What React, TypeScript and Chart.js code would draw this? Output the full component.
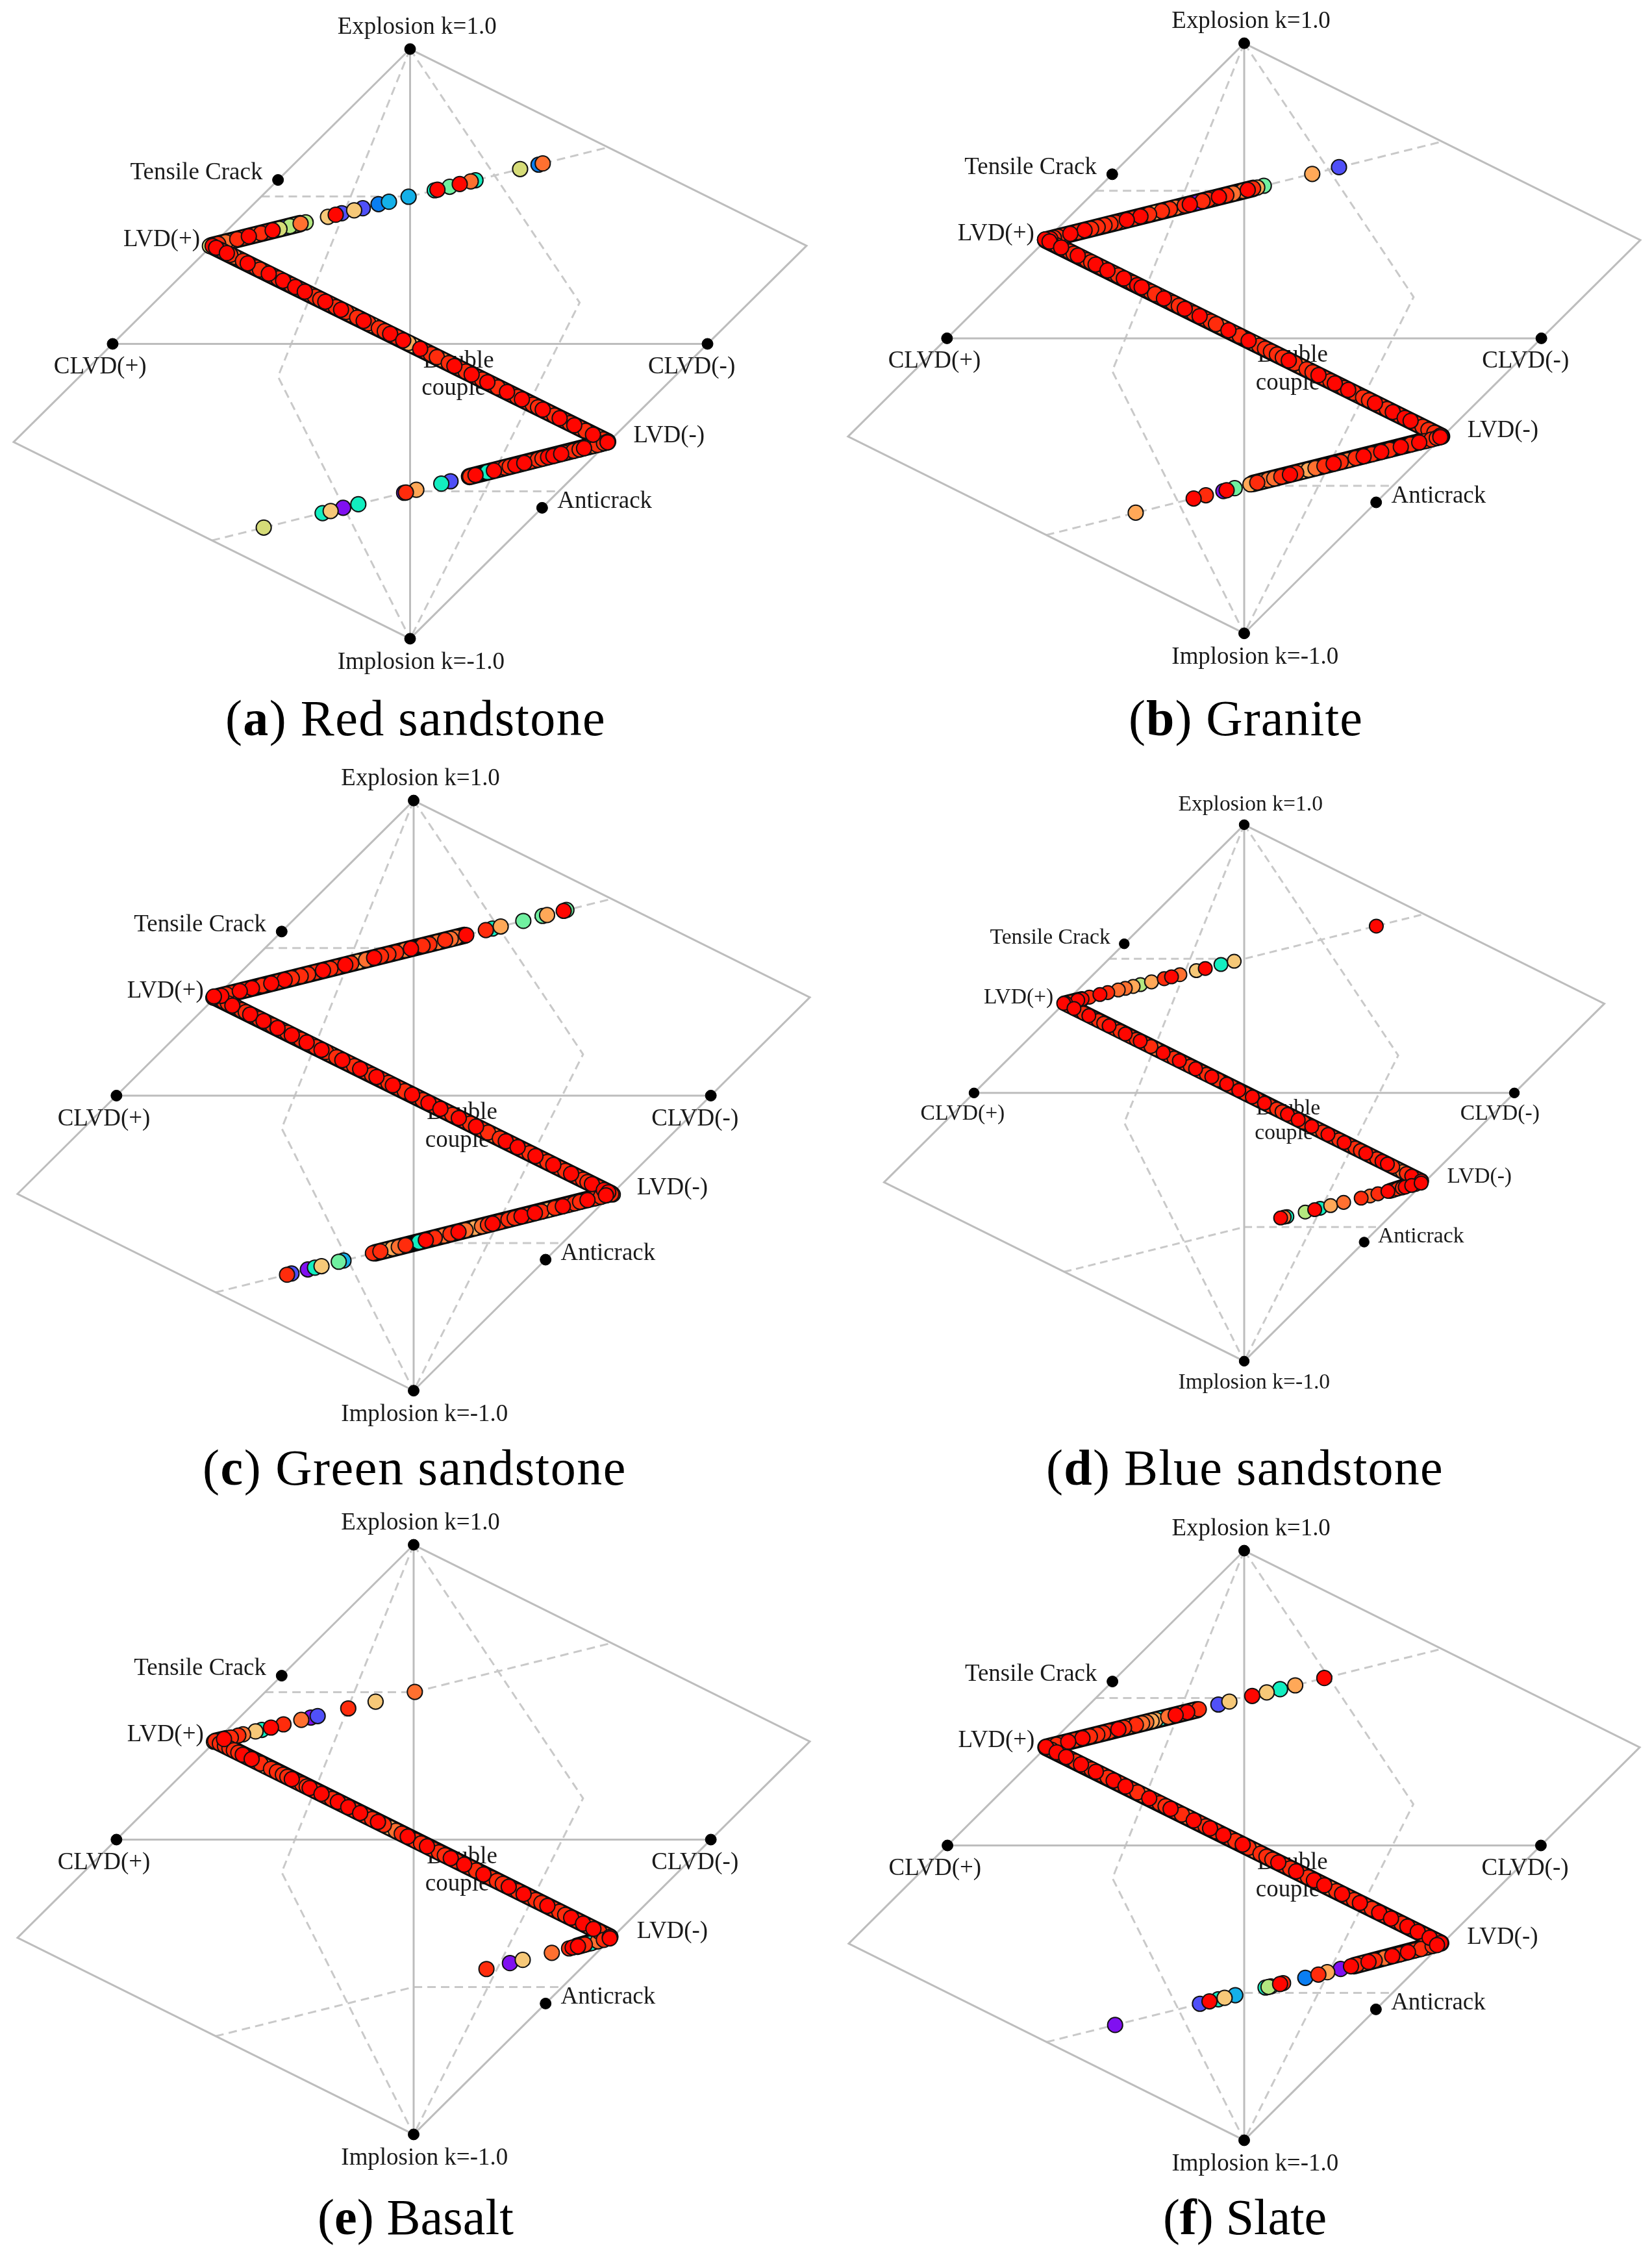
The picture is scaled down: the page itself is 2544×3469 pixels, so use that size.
import React, { useEffect, useRef } from "react";
import Chart from "chart.js/auto";

type Ev = [number, number, number]; // [T, k, shade index]

// colour scale of the events, low values are painted first
const shades = ["#8010f0","#5050f8","#0a7ef2","#14b0e8","#12eec0","#70f0a0","#b4e880","#d6dc78","#f6c878","#ffa858","#ff7030","#ff2c0c","#ff0600"];

// Hudson diagram frame
const outerT = [0,-1.333,0,1.333,0];
const outerK = [1,-0.333,-1,0.333,1];
const clvdT = [-1,1];
const clvdK = [0,0];
const isoT = [0,0];
const isoK = [1,-1];
const dashUpperT = [-0.5,0,0.667];
const dashUpperK = [0.5,0.5,0.667];
const dashLowerT = [-0.667,0,0.5];
const dashLowerK = [-0.667,-0.5,-0.5];
const dashLeftT = [0,-0.444,0];
const dashLeftK = [1,-0.111,-1];
const dashRightT = [0,0.57,0];
const dashRightK = [1,0.14,-1];
const landmarkT = [0,0,-1,1,-0.444,0.444];
const landmarkK = [1,-1,0,0,0.556,-0.556];

// text anchors in T,k coordinates
const labelText = ["Explosion k=1.0","Implosion k=-1.0","Tensile Crack","LVD(+)","CLVD(+)","CLVD(-)","Double","couple","LVD(-)","Anticrack"];
const labelT = [-0.244,-0.244,-0.941,-0.964,-1.198,0.80,0.044,0.039,0.751,0.495];
const labelK = [1.073,-1.081,0.579,0.354,-0.079,-0.079,-0.059,-0.152,-0.313,-0.535];

// where the events overlap into a solid band
const redSandstoneBandT = [-.37,-.668,.664,.2];
const redSandstoneBandK = [.408,.333,-.332,-.45];
const graniteBandT = [.03,-.668,.664,.03];
const graniteBandK = [.508,.333,-.332,-.492];
const greenSandstoneBandT = [.17,-.668,.664,-.13];
const greenSandstoneBandK = [.543,.333,-.332,-.533];
const blueSandstoneBandT = [-.6,-.665,.655,.54];
const blueSandstoneBandK = [.35,.334,-.328,-.365];
const basaltBandT = [-.63,-.665,.66,.55];
const basaltBandK = [.342,.334,-.33,-.362];
const slateBandT = [-.16,-.668,.662,.37];
const slateBandK = [.46,.333,-.331,-.408];

const redSandstoneUpper: Ev[] = [[.446,.612,10],[.432,.608,2],[.37,.593,7],[.22,.555,4],[.204,.551,10],[.167,.542,12],[.133,.533,5],[.092,.523,12],[.083,.521,4],[-.005,.499,3],[-.071,.482,3],[-.106,.474,2],[-.159,.46,1],[-.188,.453,8],[-.23,.443,1],[-.25,.438,12],[-.276,.431,8],[-.351,.412,6],[-.368,.408,10],[-.385,.404,6],[-.404,.399,6],[-.42,.395,1],[-.439,.39,7],[-.462,.385,12],[-.48,.38,11],[-.501,.375,11],[-.52,.37,10],[-.542,.365,12],[-.56,.36,11],[-.581,.355,11],[-.595,.351,10],[-.608,.348,10],[-.62,.345,10],[-.634,.342,9],[-.645,.339,11],[-.652,.337,10],[-.673,.332,7]];
const redSandstoneMiddle: Ev[] = [[-.664,.332,12],[-.652,.326,12],[-.64,.32,11],[-.628,.314,11],[-.616,.308,12],[-.604,.302,11],[-.59,.295,10],[-.575,.288,9],[-.562,.281,11],[-.546,.273,12],[-.532,.266,11],[-.518,.259,11],[-.505,.252,11],[-.49,.245,10],[-.475,.238,12],[-.46,.23,11],[-.443,.222,11],[-.427,.214,12],[-.413,.207,11],[-.4,.2,11],[-.386,.193,12],[-.37,.185,11],[-.354,.177,12],[-.338,.169,11],[-.32,.16,11],[-.302,.151,11],[-.285,.143,12],[-.27,.135,11],[-.25,.125,11],[-.232,.116,12],[-.215,.108,11],[-.2,.1,10],[-.178,.089,11],[-.156,.078,12],[-.14,.07,11],[-.125,.063,9],[-.105,.053,11],[-.085,.043,11],[-.067,.034,12],[-.045,.023,11],[-.023,.012,12],[-.005,.003,9],[.012,-.006,8],[.034,-.017,12],[.052,-.026,11],[.07,-.035,11],[.09,-.045,11],[.11,-.055,10],[.13,-.065,11],[.149,-.075,12],[.168,-.084,11],[.187,-.094,11],[.207,-.104,12],[.225,-.113,11],[.242,-.121,11],[.26,-.13,12],[.278,-.139,11],[.295,-.148,11],[.31,-.155,10],[.326,-.163,12],[.343,-.172,11],[.36,-.18,11],[.376,-.188,12],[.395,-.198,11],[.412,-.206,11],[.43,-.215,11],[.446,-.223,12],[.464,-.232,11],[.485,-.243,11],[.503,-.252,12],[.52,-.26,11],[.537,-.269,11],[.552,-.276,12],[.57,-.285,11],[.59,-.295,11],[.615,-.308,12],[.632,-.316,9],[.648,-.324,11],[.664,-.332,12]];
const redSandstoneLower: Ev[] = [[-.492,-.623,7],[-.294,-.574,4],[-.267,-.567,8],[-.225,-.556,0],[-.174,-.544,4],[-.014,-.504,11],[-.02,-.505,0],[.021,-.495,9],[.105,-.474,4],[.136,-.466,1],[.202,-.45,11],[.22,-.445,12],[.26,-.435,4],[.282,-.43,12],[.3,-.425,11],[.319,-.42,11],[.335,-.416,11],[.354,-.412,12],[.37,-.408,11],[.384,-.404,12],[.405,-.399,11],[.429,-.393,11],[.445,-.389,11],[.464,-.384,12],[.482,-.38,12],[.495,-.376,11],[.508,-.373,12],[.52,-.37,11],[.535,-.366,8],[.55,-.363,11],[.57,-.358,11],[.585,-.354,12],[.6,-.35,10],[.615,-.346,10],[.63,-.343,11],[.641,-.34,10],[.652,-.337,11],[.664,-.334,12]];

const graniteUpper: Ev[] = [[.319,.58,1],[.229,.557,9],[.066,.517,5],[.044,.511,9],[.03,.508,11],[.012,.503,12],[-.005,.499,10],[-.037,.491,10],[-.06,.485,11],[-.085,.479,12],[-.105,.474,11],[-.121,.47,11],[-.14,.465,11],[-.16,.46,0],[-.183,.454,12],[-.2,.45,11],[-.215,.446,1],[-.23,.443,10],[-.25,.438,11],[-.277,.431,11],[-.298,.426,9],[-.32,.42,11],[-.349,.413,12],[-.372,.407,11],[-.395,.401,12],[-.415,.396,11],[-.431,.392,11],[-.45,.388,11],[-.47,.383,11],[-.493,.377,11],[-.515,.371,11],[-.537,.366,12],[-.56,.36,11],[-.585,.354,12],[-.605,.349,11],[-.626,.344,11],[-.64,.34,11],[-.652,.337,12],[-.67,.333,12]];
const graniteMiddle: Ev[] = [[-.67,.335,12],[-.655,.328,12],[-.642,.321,11],[-.63,.315,11],[-.616,.308,12],[-.602,.301,11],[-.588,.294,11],[-.574,.287,11],[-.56,.28,12],[-.545,.273,11],[-.53,.265,11],[-.515,.258,11],[-.5,.25,12],[-.48,.24,11],[-.46,.23,12],[-.44,.22,11],[-.425,.213,11],[-.405,.203,12],[-.39,.195,11],[-.375,.188,11],[-.36,.18,12],[-.345,.173,12],[-.33,.165,11],[-.315,.158,11],[-.3,.15,11],[-.285,.143,10],[-.27,.135,12],[-.255,.128,11],[-.24,.12,11],[-.22,.11,11],[-.2,.1,12],[-.185,.093,11],[-.17,.085,11],[-.15,.075,12],[-.13,.065,11],[-.113,.057,11],[-.095,.048,11],[-.075,.038,10],[-.053,.027,12],[-.035,.018,11],[-.015,.008,11],[.015,-.008,12],[.032,-.016,9],[.05,-.025,11],[.07,-.035,11],[.09,-.045,11],[.11,-.055,11],[.13,-.065,11],[.15,-.075,12],[.17,-.085,11],[.19,-.095,10],[.21,-.105,11],[.23,-.115,11],[.25,-.125,12],[.27,-.135,11],[.29,-.145,11],[.305,-.153,12],[.32,-.16,11],[.335,-.168,11],[.35,-.175,12],[.37,-.185,11],[.385,-.193,9],[.4,-.2,11],[.42,-.21,11],[.44,-.22,12],[.46,-.23,11],[.48,-.24,11],[.5,-.25,12],[.52,-.26,11],[.54,-.27,12],[.56,-.28,12],[.58,-.29,11],[.6,-.3,11],[.62,-.31,11],[.64,-.32,11],[.66,-.33,12]];
const graniteLower: Ev[] = [[-.365,-.591,9],[-.17,-.543,12],[-.129,-.532,11],[-.059,-.515,12],[-.07,-.518,0],[-.032,-.508,5],[.021,-.495,9],[.044,-.489,11],[.06,-.485,8],[.08,-.48,10],[.101,-.475,10],[.125,-.469,11],[.154,-.462,12],[.175,-.456,11],[.195,-.451,9],[.216,-.446,9],[.24,-.44,10],[.27,-.433,11],[.301,-.425,12],[.325,-.419,11],[.349,-.413,10],[.375,-.406,11],[.402,-.4,12],[.43,-.393,11],[.461,-.385,12],[.49,-.378,11],[.527,-.368,12],[.56,-.36,11],[.589,-.353,12],[.61,-.348,11],[.63,-.343,11],[.648,-.338,11],[.66,-.335,12]];

const greenSandstoneUpper: Ev[] = [[.514,.629,5],[.505,.626,12],[.449,.612,9],[.434,.609,5],[.369,.592,5],[.293,.573,9],[.265,.566,4],[.243,.561,11],[.177,.544,12],[.142,.536,10],[.125,.531,10],[.106,.527,11],[.08,.52,10],[.053,.513,11],[.03,.508,11],[-.009,.498,12],[-.03,.493,10],[-.059,.485,11],[-.085,.479,11],[-.11,.473,11],[-.133,.467,12],[-.16,.46,10],[-.186,.454,9],[-.21,.448,11],[-.23,.443,12],[-.257,.436,11],[-.28,.43,11],[-.305,.424,12],[-.33,.418,11],[-.355,.411,11],[-.38,.405,11],[-.41,.398,11],[-.434,.392,12],[-.455,.386,11],[-.479,.38,12],[-.51,.373,11],[-.544,.364,12],[-.565,.359,11],[-.585,.354,12],[-.61,.348,11],[-.63,.343,11],[-.647,.338,12],[-.674,.332,12]];
const greenSandstoneMiddle: Ev[] = [[-.672,.336,12],[-.655,.328,11],[-.64,.32,11],[-.625,.313,11],[-.61,.305,12],[-.595,.298,11],[-.58,.29,11],[-.565,.283,11],[-.55,.275,12],[-.532,.266,11],[-.52,.26,11],[-.505,.253,12],[-.49,.245,11],[-.475,.238,11],[-.458,.229,12],[-.44,.22,11],[-.425,.213,11],[-.41,.205,12],[-.395,.198,11],[-.38,.19,11],[-.36,.18,12],[-.345,.173,11],[-.33,.165,11],[-.31,.155,12],[-.295,.148,11],[-.28,.14,10],[-.26,.13,11],[-.24,.12,12],[-.22,.11,11],[-.2,.1,11],[-.18,.09,12],[-.16,.08,11],[-.14,.07,11],[-.125,.063,12],[-.105,.053,11],[-.085,.043,11],[-.07,.035,12],[-.05,.025,11],[-.03,.015,11],[-.005,.003,12],[.01,-.005,11],[.03,-.015,11],[.05,-.025,12],[.07,-.035,11],[.09,-.045,12],[.11,-.055,11],[.13,-.065,11],[.152,-.076,12],[.17,-.085,11],[.19,-.095,11],[.21,-.105,12],[.23,-.115,11],[.25,-.125,11],[.27,-.135,10],[.29,-.145,11],[.31,-.155,12],[.33,-.165,11],[.35,-.175,12],[.37,-.185,11],[.39,-.195,11],[.41,-.205,12],[.43,-.215,11],[.45,-.225,11],[.47,-.235,12],[.49,-.245,11],[.51,-.255,11],[.53,-.265,12],[.55,-.275,11],[.57,-.285,11],[.585,-.293,11],[.6,-.3,12],[.62,-.31,11],[.64,-.32,12],[.655,-.328,12],[.67,-.335,11]];
const greenSandstoneLower: Ev[] = [[-.426,-.607,11],[-.411,-.603,1],[-.356,-.589,0],[-.332,-.583,4],[-.31,-.578,8],[-.252,-.563,5],[-.236,-.559,3],[-.137,-.534,11],[-.112,-.528,11],[-.095,-.524,9],[-.071,-.518,9],[-.05,-.513,10],[-.027,-.507,11],[.018,-.496,4],[.041,-.49,12],[.071,-.482,11],[.1,-.475,10],[.124,-.469,11],[.151,-.462,12],[.175,-.456,10],[.204,-.449,9],[.23,-.443,10],[.25,-.438,11],[.266,-.434,12],[.29,-.428,11],[.319,-.42,11],[.34,-.415,11],[.363,-.409,12],[.385,-.404,11],[.408,-.398,12],[.43,-.393,11],[.452,-.387,9],[.475,-.381,11],[.502,-.375,12],[.52,-.37,11],[.541,-.365,11],[.56,-.36,11],[.585,-.354,12],[.61,-.348,11],[.63,-.343,11],[.647,-.338,12],[.665,-.334,11]];

const blueSandstoneUpper: Ev[] = [[.489,.622,12],[-.037,.491,8],[-.086,.479,4],[-.144,.464,12],[-.177,.456,8],[-.238,.441,10],[-.269,.433,12],[-.296,.426,11],[-.343,.414,9],[-.384,.404,6],[-.411,.397,9],[-.44,.39,10],[-.466,.384,10],[-.505,.374,11],[-.534,.367,12],[-.573,.357,11],[-.6,.35,12],[-.616,.346,12],[-.64,.34,11],[-.661,.335,12]];
const blueSandstoneMiddle: Ev[] = [[-.668,.334,12],[-.65,.325,11],[-.63,.315,12],[-.615,.308,11],[-.595,.298,11],[-.575,.288,12],[-.56,.28,11],[-.54,.27,11],[-.52,.26,11],[-.5,.25,12],[-.48,.24,11],[-.46,.23,11],[-.44,.22,12],[-.42,.21,11],[-.4,.2,11],[-.385,.193,12],[-.365,.183,11],[-.345,.173,11],[-.325,.163,10],[-.3,.15,12],[-.28,.14,11],[-.26,.13,11],[-.24,.12,12],[-.22,.11,11],[-.2,.1,11],[-.18,.09,12],[-.16,.08,11],[-.14,.07,11],[-.12,.06,12],[-.095,.048,11],[-.065,.033,12],[-.045,.023,11],[-.02,.01,12],[.005,-.003,11],[.03,-.015,12],[.05,-.025,11],[.075,-.038,12],[.095,-.048,11],[.12,-.06,11],[.14,-.07,11],[.16,-.08,12],[.18,-.09,11],[.2,-.1,12],[.22,-.11,11],[.25,-.125,12],[.27,-.135,10],[.29,-.145,11],[.31,-.155,12],[.33,-.165,11],[.35,-.175,11],[.37,-.185,12],[.39,-.195,11],[.41,-.205,11],[.43,-.215,11],[.45,-.225,12],[.47,-.235,11],[.49,-.245,11],[.51,-.255,12],[.53,-.265,12],[.55,-.275,11],[.57,-.285,9],[.585,-.293,10],[.6,-.3,11],[.62,-.31,12],[.64,-.32,11],[.655,-.328,12]];
const blueSandstoneLower: Ev[] = [[.135,-.466,12],[.158,-.461,4],[.148,-.463,10],[.226,-.444,6],[.261,-.435,12],[.281,-.43,4],[.32,-.42,9],[.368,-.408,10],[.433,-.392,11],[.466,-.384,10],[.495,-.376,11],[.532,-.367,12],[.55,-.363,11],[.567,-.358,11],[.585,-.354,11],[.596,-.351,12],[.62,-.345,12],[.635,-.341,11],[.655,-.336,12]];

const basaltUpper: Ev[] = [[.004,.501,10],[-.128,.468,8],[-.22,.445,11],[-.323,.419,1],[-.346,.414,0],[-.378,.406,10],[-.438,.391,11],[-.48,.38,12],[-.511,.372,4],[-.532,.367,8],[-.574,.357,10],[-.59,.353,11],[-.615,.346,11],[-.638,.341,12],[-.65,.338,10],[-.665,.334,10],[-.672,.332,9]];
const basaltMiddle: Ev[] = [[-.668,.334,11],[-.652,.326,11],[-.635,.318,11],[-.62,.31,11],[-.605,.303,11],[-.59,.295,11],[-.575,.288,12],[-.56,.28,11],[-.545,.273,12],[-.53,.265,11],[-.515,.258,11],[-.5,.25,9],[-.48,.24,11],[-.46,.23,11],[-.44,.22,11],[-.425,.213,11],[-.41,.205,12],[-.39,.195,11],[-.375,.188,11],[-.36,.18,11],[-.35,.175,12],[-.33,.165,11],[-.31,.155,12],[-.295,.148,11],[-.275,.138,11],[-.255,.128,12],[-.235,.118,11],[-.22,.11,12],[-.2,.1,11],[-.18,.09,12],[-.16,.08,11],[-.14,.07,11],[-.12,.06,12],[-.1,.05,11],[-.08,.04,9],[-.06,.03,10],[-.04,.02,11],[-.02,.01,12],[.005,-.003,11],[.025,-.013,11],[.045,-.023,12],[.065,-.033,11],[.085,-.043,11],[.105,-.053,11],[.125,-.063,12],[.145,-.073,11],[.17,-.085,12],[.19,-.095,11],[.21,-.105,11],[.235,-.118,12],[.26,-.13,11],[.28,-.14,11],[.3,-.15,11],[.32,-.16,12],[.335,-.168,11],[.35,-.175,11],[.37,-.185,12],[.39,-.195,11],[.41,-.205,11],[.43,-.215,11],[.45,-.225,12],[.47,-.235,11],[.49,-.245,11],[.51,-.255,11],[.53,-.265,12],[.55,-.275,11],[.57,-.285,12],[.59,-.295,10],[.605,-.303,12],[.625,-.313,11],[.645,-.323,10],[.66,-.33,12]];
const basaltLower: Ev[] = [[.245,-.439,11],[.324,-.419,0],[.367,-.408,8],[.465,-.384,10],[.523,-.369,11],[.535,-.366,12],[.553,-.362,12],[.576,-.356,11],[.598,-.351,4],[.62,-.345,10],[.64,-.34,11],[.66,-.335,12]];

const slateUpper: Ev[] = [[.27,.568,12],[.172,.543,9],[.121,.53,4],[.076,.519,8],[.027,.507,12],[-.05,.488,8],[-.087,.478,1],[-.153,.462,11],[-.172,.457,10],[-.192,.452,12],[-.21,.448,11],[-.231,.442,12],[-.256,.436,10],[-.282,.43,4],[-.298,.426,9],[-.312,.422,9],[-.33,.418,10],[-.344,.414,10],[-.365,.409,11],[-.389,.403,10],[-.405,.399,11],[-.424,.394,12],[-.454,.387,11],[-.475,.381,11],[-.495,.376,11],[-.52,.37,11],[-.545,.364,12],[-.57,.358,11],[-.593,.352,12],[-.615,.346,11],[-.632,.342,11],[-.65,.338,10],[-.667,.333,12]];
const slateMiddle: Ev[] = [[-.668,.334,12],[-.65,.325,11],[-.632,.316,12],[-.615,.308,11],[-.6,.3,12],[-.585,.293,11],[-.57,.285,11],[-.55,.275,12],[-.535,.268,11],[-.515,.258,11],[-.5,.25,12],[-.48,.24,11],[-.46,.23,11],[-.44,.22,12],[-.42,.21,11],[-.4,.2,12],[-.38,.19,11],[-.36,.18,11],[-.34,.17,10],[-.32,.16,12],[-.305,.153,11],[-.285,.143,11],[-.265,.133,11],[-.248,.124,12],[-.23,.115,11],[-.21,.105,11],[-.19,.095,10],[-.17,.085,12],[-.15,.075,11],[-.13,.065,11],[-.115,.058,12],[-.095,.048,11],[-.07,.035,12],[-.05,.025,11],[-.03,.015,11],[-.005,.003,12],[.015,-.008,11],[.035,-.018,10],[.055,-.028,11],[.075,-.038,11],[.095,-.048,11],[.115,-.058,12],[.135,-.068,11],[.155,-.078,11],[.175,-.088,12],[.195,-.098,11],[.215,-.108,11],[.235,-.118,12],[.255,-.128,11],[.27,-.135,12],[.29,-.145,10],[.31,-.155,11],[.33,-.165,12],[.35,-.175,11],[.37,-.185,11],[.39,-.195,12],[.41,-.205,11],[.43,-.215,11],[.455,-.228,12],[.475,-.238,11],[.495,-.248,12],[.51,-.255,11],[.53,-.265,11],[.55,-.275,12],[.57,-.285,11],[.585,-.293,12],[.605,-.303,11],[.625,-.313,12],[.645,-.323,11],[.662,-.331,12]];
const slateLower: Ev[] = [[-.435,-.609,0],[-.149,-.537,1],[-.117,-.529,12],[-.087,-.522,4],[-.066,-.517,8],[-.03,-.508,3],[.072,-.482,4],[.082,-.48,6],[.09,-.478,5],[.121,-.47,12],[.131,-.467,11],[.206,-.449,2],[.25,-.438,11],[.28,-.43,9],[.325,-.419,0],[.36,-.41,12],[.38,-.405,11],[.4,-.4,10],[.419,-.395,12],[.44,-.39,11],[.472,-.382,10],[.499,-.375,12],[.525,-.369,11],[.552,-.362,12],[.575,-.356,11],[.596,-.351,11],[.615,-.346,10],[.635,-.341,11],[.65,-.338,12]];

const redSandstoneEvents = [...redSandstoneUpper, ...redSandstoneMiddle, ...redSandstoneLower];
const graniteEvents = [...graniteUpper, ...graniteMiddle, ...graniteLower];
const greenSandstoneEvents = [...greenSandstoneUpper, ...greenSandstoneMiddle, ...greenSandstoneLower];
const blueSandstoneEvents = [...blueSandstoneUpper, ...blueSandstoneMiddle, ...blueSandstoneLower];
const basaltEvents = [...basaltUpper, ...basaltMiddle, ...basaltLower];
const slateEvents = [...slateUpper, ...slateMiddle, ...slateLower];

const PANELS = [
  { letter: "a", name: " Red sandstone", events: redSandstoneEvents, bandT: redSandstoneBandT, bandK: redSandstoneBandK, cx: 631.1, cy: 529.7, hx: 458, hy: 454, capL: 347, capR: 933, capY: 1132, floor: -1.4 },
  { letter: "b", name: " Granite", events: graniteEvents, bandT: graniteBandT, bandK: graniteBandK, cx: 1915.3, cy: 520.8, hx: 457.5, hy: 454.2, capL: 1738, capR: 2099, capY: 1132, floor: -1.42 },
  { letter: "c", name: " Green sandstone", events: greenSandstoneEvents, bandT: greenSandstoneBandT, bandK: greenSandstoneBandK, cx: 636.8, cy: 1686.7, hx: 457.5, hy: 454.3, capL: 312, capR: 965, capY: 2286, floor: -1.4 },
  { letter: "d", name: " Blue sandstone", events: blueSandstoneEvents, bandT: blueSandstoneBandT, bandK: blueSandstoneBandK, cx: 1916.1, cy: 1683, hx: 416.2, hy: 412.9, capL: 1611, capR: 2223, capY: 2286, floor: -1.55 },
  { letter: "e", name: " Basalt", events: basaltEvents, bandT: basaltBandT, bandK: basaltBandK, cx: 636.8, cy: 2832.9, hx: 457.5, hy: 453.9, capL: 489, capR: 791, capY: 3440, floor: -1.4 },
  { letter: "f", name: " Slate", events: slateEvents, bandT: slateBandT, bandK: slateBandK, cx: 1916.1, cy: 2841, hx: 457.1, hy: 453.9, capL: 1791, capR: 2043, capY: 3440, floor: -1.4 },
];

const X_EDGE = 1.37;
const Y_TOP = 1.14;
const SERIF = '"Liberation Serif", serif';
const toPts = (t: number[], k: number[]) => t.map((x, i) => ({ x, y: k[i] }));

function Panel({ p }: { p: (typeof PANELS)[number] }) {
  const ref = useRef<HTMLCanvasElement>(null);
  const left = Math.round(p.cx - X_EDGE * p.hx);
  const top = Math.round(p.cy - Y_TOP * p.hy);
  const width = Math.round(2 * X_EDGE * p.hx);
  const height = Math.round((Y_TOP - p.floor) * p.hy);

  useEffect(() => {
    const sorted = [...p.events].sort((a, b) => a[2] - b[2]);
    const unit = p.hx / 458;
    const solid = (t: number[], k: number[]) => ({
      data: toPts(t, k), showLine: true, pointRadius: 0, borderColor: "#bdbdbd", borderWidth: 3, order: 2,
    });
    const dashed = (t: number[], k: number[]) => ({
      data: toPts(t, k), showLine: true, pointRadius: 0, borderColor: "#c9c9c9", borderWidth: 3,
      borderDash: [13 * unit, 8 * unit], order: 3,
    });
    const textPlugin = {
      id: "panelText",
      beforeDatasetDraw(chart: any, args: any) {
        if (args.index !== 1) return;
        const c = chart.ctx;
        c.save();
        c.fillStyle = "#1a1a1a";
        c.textBaseline = "middle";
        c.textAlign = "left";
        c.font = `${37 * unit}px ${SERIF}`;
        labelText.forEach((s, i) => {
          c.fillText(s, chart.scales.x.getPixelForValue(labelT[i]), chart.scales.y.getPixelForValue(labelK[i]));
        });
        c.restore();
      },
      afterDatasetsDraw(chart: any) {
        const c = chart.ctx;
        c.save();
        c.fillStyle = "#000";
        c.textBaseline = "alphabetic";
        const size = 78;
        const regular = `${size}px ${SERIF}`;
        const bold = `bold ${size}px ${SERIF}`;
        c.font = regular;
        const w1 = c.measureText("(").width;
        const w3 = c.measureText(")" + p.name).width;
        c.font = bold;
        const w2 = c.measureText(p.letter).width;
        const count = 2 + p.letter.length + p.name.length;
        const spacing = (p.capR - p.capL - w1 - w2 - w3) / count;
        c.letterSpacing = `${spacing}px`;
        let x = p.capL - left;
        const y = p.capY - top;
        c.font = regular;
        c.fillText("(", x, y);
        x += c.measureText("(").width;
        c.font = bold;
        c.fillText(p.letter, x, y);
        x += c.measureText(p.letter).width;
        c.font = regular;
        c.fillText(")" + p.name, x, y);
        c.restore();
      },
    };
    const chart = new Chart(ref.current!, {
      type: "scatter",
      data: {
        datasets: [
          {
            data: sorted.map((e) => ({ x: e[0], y: e[1] })),
            backgroundColor: sorted.map((e) => shades[e[2]]),
            borderColor: "#111",
            borderWidth: 2,
            pointRadius: 11.6 * unit,
            order: 0,
          },
          {
            data: toPts(p.bandT, p.bandK), showLine: true, pointRadius: 0, borderColor: "#050505",
            borderWidth: 27 * unit, borderCapStyle: "round", borderJoinStyle: "round", order: 0.5,
          },
          { data: toPts(landmarkT, landmarkK), backgroundColor: "#000", borderColor: "#000", pointRadius: 8.5 * unit, order: 1 },
          solid(outerT, outerK), solid(clvdT, clvdK), solid(isoT, isoK),
          dashed(dashUpperT, dashUpperK), dashed(dashLowerT, dashLowerK), dashed(dashLeftT, dashLeftK), dashed(dashRightT, dashRightK),
        ] as any,
      },
      options: {
        animation: false,
        responsive: false,
        devicePixelRatio: 1,
        layout: { padding: 0, autoPadding: false },
        plugins: { legend: { display: false }, tooltip: { enabled: false }, title: { display: false } },
        scales: {
          x: { type: "linear", min: -X_EDGE, max: X_EDGE, display: false },
          y: { type: "linear", min: p.floor, max: Y_TOP, display: false },
        },
      },
      plugins: [textPlugin],
    } as any);
    return () => chart.destroy();
  }, []);

  return <canvas ref={ref} width={width} height={height} style={{ position: "absolute", left, top, width, height }} />;
}

export default function App() {
  return (
    <div style={{ position: "absolute", left: 0, top: 0, width: 2544, height: 3469, background: "#fff", overflow: "hidden" }}>
      {PANELS.map((p) => <Panel key={p.letter} p={p} />)}
    </div>
  );
}
